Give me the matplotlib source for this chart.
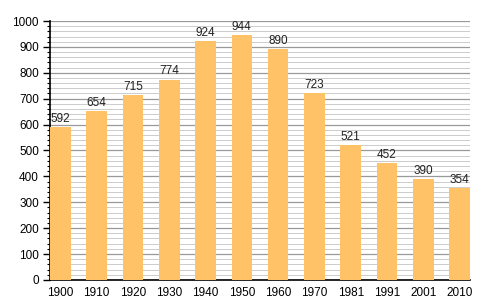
import matplotlib
matplotlib.use("Agg")
import matplotlib.pyplot as plt
import numpy as np

plt.rcParams["font.family"] = ["Liberation Sans", "DejaVu Sans"]

years = ["1900", "1910", "1920", "1930", "1940", "1950", "1960", "1970", "1981", "1991", "2001", "2010"]
population = [592, 654, 715, 774, 924, 944, 890, 723, 521, 452, 390, 354]

fig = plt.figure(figsize=(5, 3), dpi=100)
ax = fig.add_axes([0.10, 0.067, 0.84, 0.863])

x = np.arange(len(years))
w = 0.57
ax.bar(x, population, width=w, color="#FFC266", zorder=3)
for xi, v in zip(x, population):
    ax.text(xi, v + 8, str(v), ha="center", va="bottom", fontsize=8.5, color="#222222", zorder=4)

ax.set_xlim(-w / 2, len(years) - 1 + w / 2)
ax.set_ylim(0, 1000)
ax.set_yticks(np.arange(0, 1001, 100))
ax.set_yticks(np.arange(0, 1001, 20), minor=True)
ax.set_xticks(x)
ax.set_xticklabels(years)
ax.grid(axis="y", which="major", color="#999999", linewidth=0.9, zorder=0)
ax.grid(axis="y", which="minor", color="#cccccc", linewidth=0.7, zorder=0)
for s in ["top", "right"]:
    ax.spines[s].set_visible(False)
ax.spines["left"].set_linewidth(1.2)
ax.spines["bottom"].set_linewidth(1.2)
ax.tick_params(axis="y", which="major", length=5, labelsize=8.5, width=1, pad=3)
ax.tick_params(axis="y", which="minor", length=2.5, width=0.8)
ax.tick_params(axis="x", length=0, labelsize=8.5, pad=5)
fig.savefig("out.png", dpi=100)
